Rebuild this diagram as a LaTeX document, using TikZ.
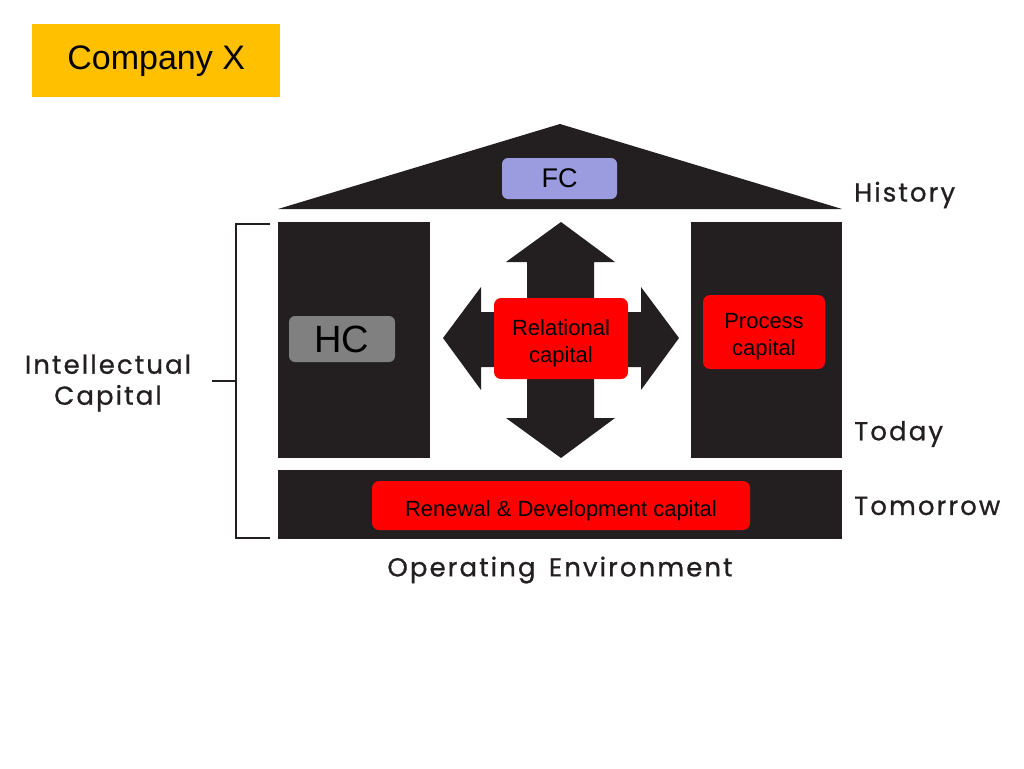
\documentclass[tikz,border=0pt]{standalone}
\usepackage{fontspec}
\setmainfont{Liberation Sans}
\newfontfamily\geo[LetterSpace=8,FakeBold=0.8]{Poppins}
\definecolor{ink}{HTML}{231F20}
\definecolor{gold}{HTML}{FFC000}
\definecolor{lav}{HTML}{9B9BE0}
\definecolor{hcgray}{HTML}{808080}
\begin{document}
\begin{tikzpicture}[x=1pt,y=-1pt,
  redbox/.style={fill=red,rounded corners=7pt,draw=none,inner sep=0pt},
  redtext/.style={align=center,font=\fontsize{22}{27}\selectfont,inner sep=0pt},
  lbl/.style={text=ink,font=\geo\fontsize{26}{31}\selectfont,anchor=west,inner sep=0pt},
  brk/.style={draw=ink,line width=1.2pt}]
\useasboundingbox (0,0) rectangle (1024,768);
% title
\node[fill=gold,minimum width=248pt,minimum height=73pt,anchor=north west,inner sep=0pt,font=\fontsize{34}{38}\selectfont] (title) at (32,24) {Company X};
% roof
\fill[ink] (278,209) -- (560,124) -- (842,209) -- cycle;
\node[fill=lav,rounded corners=6pt,minimum width=115pt,minimum height=41pt,inner sep=0pt,font=\fontsize{27}{30}\selectfont] (fc) at (559.5,178.5) {FC};
% pillars
\fill[ink] (278,222) rectangle (430,458);
\fill[ink] (691,222) rectangle (842,458);
\fill[ink] (278,470) rectangle (842,539);
% cross arrow
\fill[ink] (561,222) -- (615,262) -- (594,262) -- (594,312) -- (641,312) -- (641,287) -- (679,338)
  -- (641,390) -- (641,367) -- (594,367) -- (594,418) -- (615,418) -- (561,458) -- (506,418)
  -- (527,418) -- (527,367) -- (481,367) -- (481,390) -- (443,338) -- (481,287) -- (481,312)
  -- (527,312) -- (527,262) -- (506,262) -- cycle;
% boxes
\node[fill=hcgray,rounded corners=6pt,minimum width=106pt,minimum height=46pt,inner sep=0pt,font=\fontsize{38}{42}\selectfont] (hc) at (342,339) {HC};
\node[redbox,minimum width=134pt,minimum height=81pt] (rel) at (561,338.5) {};
\node[redtext] (relt) at ([yshift=-5pt]rel.center) {Relational\\capital};
\node[redbox,minimum width=122pt,minimum height=74pt] (proc) at (764,332) {};
\node[redtext] (proct) at ([yshift=-5pt]proc.center) {Process\\capital};
\node[redbox,minimum width=378pt,minimum height=49pt] (rd) at (561,505.5) {};
\node[redtext] (rdt) at ([yshift=-5pt]rd.center) {Renewal \& Development capital};
% labels
\node[lbl] (hist) at (854,195) {History};
\node[lbl] (today) at (854,434) {Today};
\node[lbl] (tom) at (854,506) {Tomorrow};
\node[lbl,anchor=center] (op) at (560,570) {Operating\, Environment};
\node[lbl,anchor=center,align=center] (ic) at (108,383) {Intellectual\\Capital};
% bracket
\coordinate (bt) at (270,224);
\coordinate (bb) at (270,538);
\coordinate (bm) at (236,381);
\draw[brk] (bt) -- (236,224) -- (236,538) -- (bb);
\draw[brk] (212,381) -- (bm);
\end{tikzpicture}
\end{document}
